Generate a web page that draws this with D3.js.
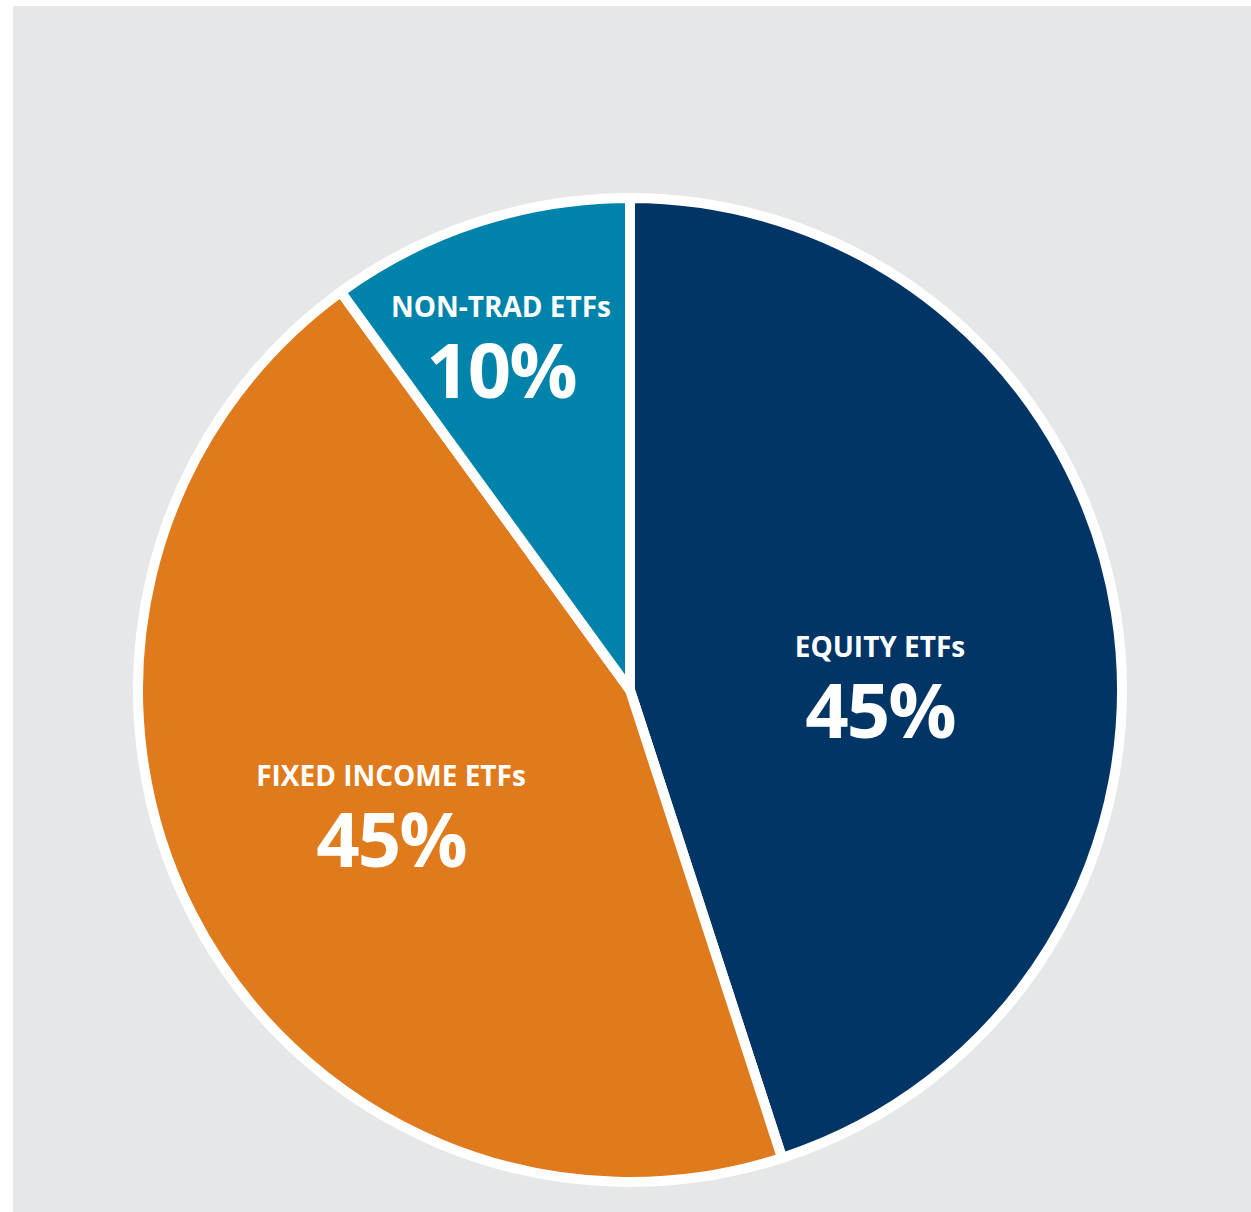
<!DOCTYPE html>
<html>
<head>
<meta charset="utf-8">
<script src="https://cdn.jsdelivr.net/npm/d3@7"></script>
<style>
  html, body { margin: 0; padding: 0; background: #ffffff; }
  svg { display: block; }
  .cat { font-family: "Open Sans", sans-serif; font-weight: 700; fill: #ffffff; }
  .pct { font-family: "Open Sans", sans-serif; font-weight: 700; fill: #ffffff; }
</style>
</head>
<body>
<div id="chart"></div>
<script>
"use strict";

// data
const categories = ["EQUITY ETFs", "FIXED INCOME ETFs", "NON-TRAD ETFs"];
const shares = [45, 45, 10];
const colors = ["#003566", "#df7a1d", "#0083aa"];

const width = 1251,
    height = 1212;

const cx = 630, cy = 690, radius = 492;

// label anchors (offset from pie centre, px)
const labelPos = {
    "EQUITY ETFs": [250, -33],
    "FIXED INCOME ETFs": [-239, 96],
    "NON-TRAD ETFs": [-129, -373]
};

const svg = d3.select("#chart")
    .append("svg")
    .attr("width", width)
    .attr("height", height);

// grey panel
svg.append("rect")
    .attr("x", 13)
    .attr("y", 6)
    .attr("width", width - 13)
    .attr("height", height - 6)
    .attr("fill", "#e6e7e9");

const data = categories.map((c, i) => ({ name: c, value: shares[i], color: colors[i] }));

const pie = d3.pie()
    .sort(null)
    .value(d => d.value);

const arc = d3.arc()
    .innerRadius(0)
    .outerRadius(radius);

const g = svg.append("g")
    .attr("transform", "translate(" + cx + "," + cy + ")");

g.selectAll("path")
    .data(pie(data))
    .enter()
    .append("path")
    .attr("d", arc)
    .attr("fill", d => d.data.color)
    .attr("stroke", "#ffffff")
    .attr("stroke-width", 10)
    .attr("stroke-linejoin", "miter");

const labels = g.selectAll("g.label")
    .data(pie(data))
    .enter()
    .append("g")
    .attr("class", "label")
    .attr("transform", d => "translate(" + labelPos[d.data.name][0] + "," + labelPos[d.data.name][1] + ")");

labels.append("text")
    .attr("class", "cat")
    .attr("text-anchor", "middle")
    .attr("y", 0)
    .style("font-size", "28px")
    .text(d => d.data.name);

labels.append("text")
    .attr("class", "pct")
    .attr("text-anchor", "middle")
    .attr("y", 81)
    .style("font-size", "76px")
    .style("letter-spacing", "-2px")
    .text(d => d.data.value + "%");
</script>
</body>
</html>
